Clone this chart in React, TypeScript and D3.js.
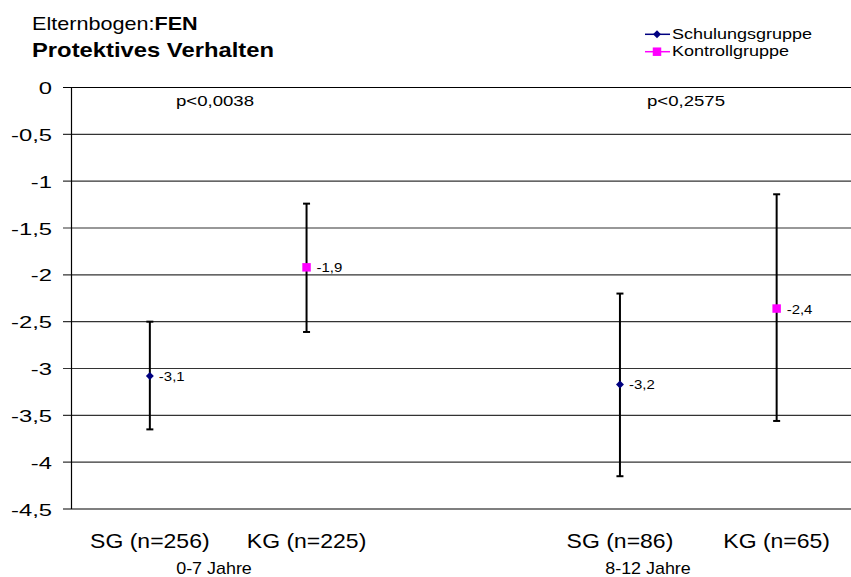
import * as d3 from "d3";

// categories on the x axis (middle slot is the gap between age groups)
const categories = ["SG (n=256)", "KG (n=225)", "", "SG (n=86)", "KG (n=65)"];

// Schulungsgruppe / Kontrollgruppe means, with error bar ends
const sgValues = [-3.08, null, null, -3.17, null];
const sgUpper = [-2.5, null, null, -2.2, null];
const sgLower = [-3.65, null, null, -4.15, null];

const kgValues = [null, -1.92, null, null, -2.36];
const kgUpper = [null, -1.24, null, null, -1.14];
const kgLower = [null, -2.61, null, null, -3.56];

const yTicks = [0, -0.5, -1, -1.5, -2, -2.5, -3, -3.5, -4, -4.5];

const groupLabels = ["0-7 Jahre", "8-12 Jahre"];
const pValues = ["p<0,0038", "p<0,2575"];
const seriesNames = ["Schulungsgruppe", "Kontrollgruppe"];

const W = 851;
const H = 577;
const FONT = "'Liberation Sans', Arial, Helvetica, sans-serif";
const SG_COLOR = "#000080";
const KG_COLOR = "#ff00ff";

const comma = (v: number, f: string) => d3.format(f)(v).replace(".", ",").replace("−", "-");

// text stretched horizontally, the reference glyphs are wider than Arial
function SText({ x, y, sx = 1.2, size, anchor = "start", weight = "normal", children }: any) {
  return (
    <text
      transform={`translate(${x},${y}) scale(${sx},1)`}
      fontSize={size}
      fontFamily={FONT}
      fontWeight={weight}
      textAnchor={anchor}
      fill="#000"
    >
      {children}
    </text>
  );
}

export default function App() {
  const left = 71.5;
  const x = d3.scaleBand<string>().domain(categories.map((_, i) => String(i))).range([left, 855]).padding(0);
  const cx = (i: number) => (x(String(i)) ?? 0) + x.bandwidth() / 2;
  const y = d3.scaleLinear().domain([0, -4.5]).range([87.5, 509]);

  const diamond = d3.symbol().type(d3.symbolDiamond2).size(40)()!;
  const square = d3.symbol().type(d3.symbolSquare).size(72)()!;

  const errorBar = (i: number, hi: number, lo: number) => (
    <g key={`e${i}`} stroke="#000" strokeWidth={2}>
      <line x1={cx(i)} x2={cx(i)} y1={y(hi)} y2={y(lo)} />
      <line x1={cx(i) - 3.5} x2={cx(i) + 3.5} y1={y(hi)} y2={y(hi)} />
      <line x1={cx(i) - 3.5} x2={cx(i) + 3.5} y1={y(lo)} y2={y(lo)} />
    </g>
  );

  return (
    <svg width={W} height={H} style={{ position: "absolute", left: 0, top: 0, background: "#fff" }}>
      <rect width={W} height={H} fill="#fff" />
      {/* title */}
      <text transform="translate(32,30) scale(1.2,1)" fontSize={18} fontFamily={FONT}>
        Elternbogen:<tspan fontWeight="bold">FEN</tspan>
      </text>
      <SText x={32} y={56.5} size={19.5} sx={1.22} weight="bold">
        Protektives Verhalten
      </SText>

      {/* legend */}
      <g>
        <line x1={645} x2={670} y1={34.3} y2={34.3} stroke={SG_COLOR} strokeWidth={1.5} />
        <path d={diamond} transform="translate(657,34.3)" fill={SG_COLOR} />
        <SText x={672} y={38.5} size={15} sx={1.2}>{seriesNames[0]}</SText>
        <line x1={645} x2={670} y1={51.7} y2={51.7} stroke={KG_COLOR} strokeWidth={1.5} />
        <path d={square} transform="translate(657,51.7)" fill={KG_COLOR} />
        <SText x={672} y={56} size={15} sx={1.2}>{seriesNames[1]}</SText>
      </g>

      {/* gridlines and y axis */}
      {yTicks.map((t) => (
        <g key={t}>
          <line x1={63} x2={W} y1={y(t)} y2={y(t)} stroke={t === -4.5 || t === 0 ? "#000" : "#333"} strokeWidth={1.2} />
          <SText x={52} y={y(t) + 6.5} size={17} sx={1.4} anchor="end">
            {comma(t, t === 0 ? "d" : ".1~f")}
          </SText>
        </g>
      ))}
      <line x1={left} x2={left} y1={y(0)} y2={y(-4.5)} stroke="#000" strokeWidth={1.2} />

      {/* p-values */}
      <SText x={176} y={105.5} size={15.5} sx={1.2}>{pValues[0]}</SText>
      <SText x={647} y={105.5} size={15.5} sx={1.2}>{pValues[1]}</SText>

      {/* error bars */}
      {sgValues.map((v, i) => (v == null ? null : errorBar(i, sgUpper[i]!, sgLower[i]!)))}
      {kgValues.map((v, i) => (v == null ? null : errorBar(i, kgUpper[i]!, kgLower[i]!)))}

      {/* points and value labels */}
      {sgValues.map((v, i) =>
        v == null ? null : (
          <g key={`s${i}`}>
            <path d={diamond} transform={`translate(${cx(i)},${y(v)})`} fill={SG_COLOR} />
            <SText x={cx(i) + 9} y={y(v) + 5} size={13} sx={1.15}>{comma(v, ".1f")}</SText>
          </g>
        )
      )}
      {kgValues.map((v, i) =>
        v == null ? null : (
          <g key={`k${i}`}>
            <path d={square} transform={`translate(${cx(i)},${y(v)})`} fill={KG_COLOR} />
            <SText x={cx(i) + 10} y={y(v) + 5} size={13} sx={1.15}>{comma(v, ".1f")}</SText>
          </g>
        )
      )}

      {/* category labels */}
      {categories.map((c, i) =>
        c ? (
          <SText key={c} x={cx(i)} y={548} size={20} sx={1.15} anchor="middle">
            {c}
          </SText>
        ) : null
      )}
      <SText x={214} y={574} size={16} sx={1.12} anchor="middle">{groupLabels[0]}</SText>
      <SText x={648} y={574} size={16} sx={1.12} anchor="middle">{groupLabels[1]}</SText>
    </svg>
  );
}
